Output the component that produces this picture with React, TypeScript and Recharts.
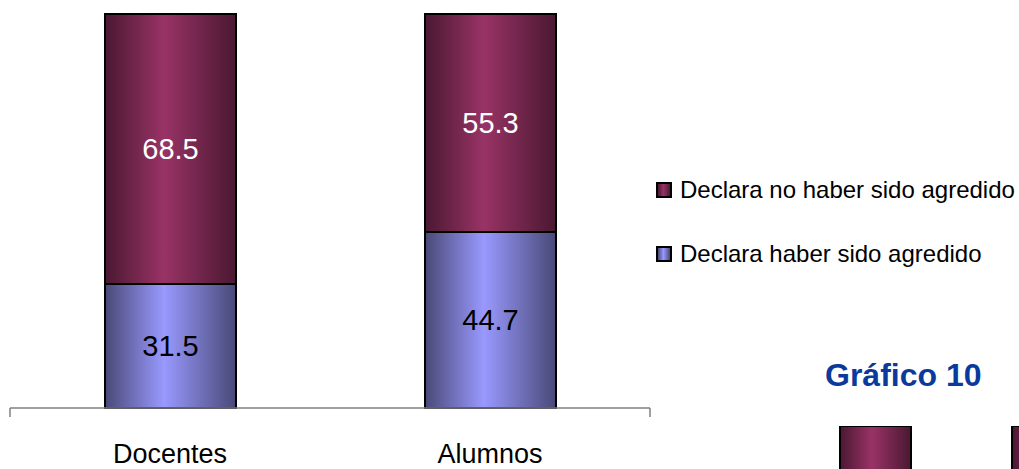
// App.tsx
//
// Stacked 100% bar chart: teachers vs. students who declare having been attacked.
// Plus the clipped top of the next chart ("Gráfico 10") at the bottom right.

import {
  BarChart,
  Bar,
  XAxis,
  YAxis,
  Legend,
  LabelList,
} from 'recharts';

// ─── Data ─────────────────────────────────────────────────────────────────────

const categories = ['Docentes', 'Alumnos'];
const agredido = [31.5, 44.7];
const noAgredido = [68.5, 55.3];

const seriesNames = ['Declara no haber sido agredido', 'Declara haber sido agredido'];

// next chart, only its top edge is visible
const nextCategories = ['A', 'B'];
const nextBottom = [40, 45];
const nextTop = [60, 55];

const chartData = categories.map((c, i) => ({
  name: c,
  agredido: agredido[i],
  noAgredido: noAgredido[i],
}));

const nextData = nextCategories.map((c, i) => ({
  name: c,
  low: nextBottom[i],
  high: nextTop[i],
}));

// ─── Styles ───────────────────────────────────────────────────────────────────

const FONT = 'Arial, "Liberation Sans", sans-serif';
const MAROON = '#993366';
const MAROON_DARK = '#4a1831';
const BLUE = '#9999ff';
const BLUE_DARK = '#494977';

function Gradients() {
  return (
    <defs>
      <linearGradient id="gMaroon" x1="0" y1="0" x2="1" y2="0">
        <stop offset="0%" stopColor={MAROON_DARK} />
        <stop offset="45%" stopColor={MAROON} />
        <stop offset="100%" stopColor={MAROON_DARK} />
      </linearGradient>
      <linearGradient id="gBlue" x1="0" y1="0" x2="1" y2="0">
        <stop offset="0%" stopColor={BLUE_DARK} />
        <stop offset="45%" stopColor={BLUE} />
        <stop offset="100%" stopColor={BLUE_DARK} />
      </linearGradient>
    </defs>
  );
}

function LegendBox() {
  const items = [
    { label: seriesNames[0], from: MAROON_DARK, mid: MAROON },
    { label: seriesNames[1], from: BLUE_DARK, mid: BLUE },
  ];
  return (
    <div style={{ fontFamily: FONT }}>
      {items.map((it) => (
        <div
          key={it.label}
          style={{ display: 'flex', alignItems: 'center', height: 64 }}
        >
          <span
            style={{
              width: 12,
              height: 12,
              border: '2px solid #000',
              background: `linear-gradient(to right, ${it.from}, ${it.mid} 45%, ${it.from})`,
              marginRight: 8,
              flex: 'none',
            }}
          />
          <span style={{ fontSize: 24, color: '#000', whiteSpace: 'nowrap' }}>
            {it.label}
          </span>
        </div>
      ))}
    </div>
  );
}

// ─── App ──────────────────────────────────────────────────────────────────────

export default function App() {
  return (
    <div
      style={{
        position: 'absolute',
        left: 0,
        top: 0,
        width: 1019,
        height: 469,
        overflow: 'hidden',
        background: '#fff',
      }}
    >
      <BarChart
        width={1019}
        height={469}
        data={chartData}
        margin={{ top: 14, right: 369, bottom: 0, left: 10 }}
        barSize={131}
      >
        <Gradients />
        <YAxis hide domain={[0, 100]} yAxisId="y" />
        {/* boundary ticks, Excel style */}
        <XAxis
          xAxisId="a0"
          type="number"
          domain={[0, 2]}
          ticks={[0, 1, 2]}
          tickFormatter={() => ''}
          height={10}
          tickSize={9}
          axisLine={{ stroke: '#808080', strokeWidth: 1.5 }}
          tickLine={{ stroke: '#808080', strokeWidth: 1.5 }}
        />
        <XAxis
          xAxisId="b1"
          dataKey="name"
          height={51}
          axisLine={false}
          tickLine={false}
          tickSize={6}
          tickMargin={20}
          tick={{ fill: '#000', fontSize: 27, fontFamily: FONT }}
        />
        <Bar
          dataKey="agredido"
          name={seriesNames[1]}
          stackId="s"
          xAxisId="b1"
          yAxisId="y"
          fill="url(#gBlue)"
          stroke="#000"
          strokeWidth={2}
          isAnimationActive={false}
        >
          <LabelList
            dataKey="agredido"
            position="center"
            fill="#000"
            style={{ fontSize: 29, fontFamily: FONT }}
          />
        </Bar>
        <Bar
          dataKey="noAgredido"
          name={seriesNames[0]}
          stackId="s"
          xAxisId="b1"
          yAxisId="y"
          fill="url(#gMaroon)"
          stroke="#000"
          strokeWidth={2}
          isAnimationActive={false}
        >
          <LabelList
            dataKey="noAgredido"
            position="center"
            fill="#fff"
            style={{ fontSize: 29, fontFamily: FONT }}
          />
        </Bar>
        <Legend
          layout="horizontal"
          verticalAlign="middle"
          align="center"
          content={<LegendBox />}
          wrapperStyle={{ position: 'absolute', left: 656, top: 158, width: 363 }}
        />
      </BarChart>

      <div
        style={{
          position: 'absolute',
          left: 825,
          top: 355,
          fontFamily: FONT,
          fontWeight: 'bold',
          fontSize: 32,
          color: '#0a3a9c',
          lineHeight: '40px',
          whiteSpace: 'nowrap',
        }}
      >
        Gráfico 10
      </div>

      <div style={{ position: 'absolute', left: 788.5, top: 426 }}>
        <BarChart
          width={344}
          height={200}
          data={nextData}
          margin={{ top: 0, right: 0, bottom: 0, left: 0 }}
          barSize={71}
        >
          <Gradients />
          <XAxis dataKey="name" hide />
          <YAxis hide domain={[0, 100]} />
          <Bar
            dataKey="low"
            stackId="n"
            fill="url(#gBlue)"
            stroke="#000"
            strokeWidth={2}
            isAnimationActive={false}
          />
          <Bar
            dataKey="high"
            stackId="n"
            fill="url(#gMaroon)"
            stroke="#000"
            strokeWidth={2}
            isAnimationActive={false}
          />
        </BarChart>
      </div>
    </div>
  );
}
